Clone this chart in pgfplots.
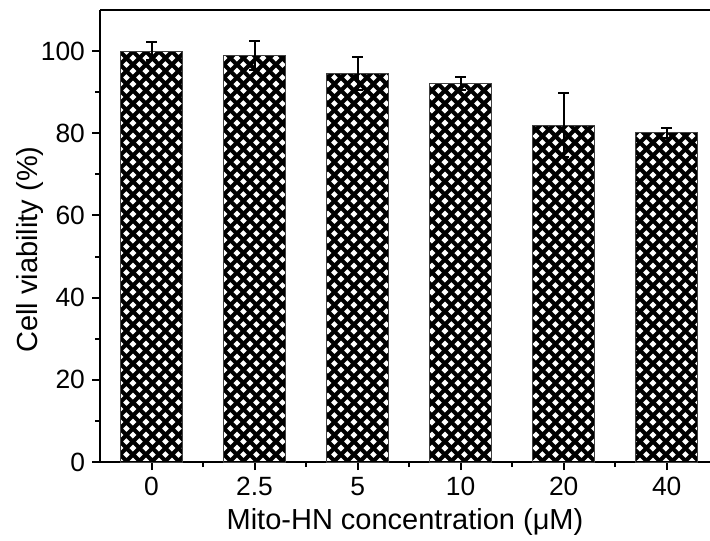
\documentclass[border=0pt]{standalone}
\usepackage{fontspec}
\setmainfont{Liberation Sans}
\usepackage{pgfplots}
\pgfplotsset{compat=1.18}
\usetikzlibrary{patterns}
\pgfdeclarepatternformonly{dcross}{\pgfqpoint{0pt}{0pt}}{\pgfqpoint{6.7pt}{6.7pt}}{\pgfqpoint{6.7pt}{6.7pt}}{%
  \pgfsetlinewidth{2.1pt}%
  \pgfpathmoveto{\pgfqpoint{-2pt}{5.35pt}}\pgfpathlineto{\pgfqpoint{5.35pt}{-2pt}}%
  \pgfpathmoveto{\pgfqpoint{1.35pt}{8.7pt}}\pgfpathlineto{\pgfqpoint{8.7pt}{1.35pt}}%
  \pgfpathmoveto{\pgfqpoint{1.35pt}{-2pt}}\pgfpathlineto{\pgfqpoint{8.7pt}{5.35pt}}%
  \pgfpathmoveto{\pgfqpoint{-2pt}{1.35pt}}\pgfpathlineto{\pgfqpoint{5.35pt}{8.7pt}}%
  \pgfusepath{stroke}}
\pgfplotstableread{
x y err
0 100.0 2.2
1 98.9 3.6
2 94.5 4.0
3 92.2 1.6
4 82.0 7.7
5 80.1 1.2
}\viability
\begin{document}
\begin{tikzpicture}
\begin{axis}[name=ax, scale only axis, width=305pt, height=226pt,
  xmin=-0.5, xmax=5.42, ymin=0, ymax=110,
  axis x line=box, axis y line=left,
  axis line style={-, line width=1pt, black},
  xtick={0,...,5}, xticklabels={0,2.5,5,10,20,40},
  minor xtick={0.5,1.5,2.5,3.5,4.5},
  ytick={0,20,...,100}, minor ytick={10,30,...,90},
  xtick pos=left, xticklabel pos=left,
  tick align=outside, major tick length=4pt, minor tick length=2.5pt,
  every tick/.style={line width=1pt, black},
  /pgf/number format/assume math mode=true,
  ticklabel style={font=\fontsize{13.2}{15}\selectfont},
  xlabel={Mito-HN concentration (μM)}, ylabel={Cell viability (\%)},
  every axis x label/.style={at={(axis description cs:0.5,0)}, yshift=-30pt, anchor=center, font=\fontsize{14.5}{17}\selectfont},
  every axis y label/.style={at={(axis description cs:0,0.47)}, xshift=-35pt, rotate=90, anchor=center, font=\fontsize{14.5}{17}\selectfont},
  ybar, bar width=0.6,
  clip=false]
\addplot[draw=black!75, line width=0.5pt, pattern=dcross, pattern color=black,
  error bars/.cd, y dir=both, y explicit,
  error bar style={line width=1pt, black, solid},
  error mark options={rotate=90, mark size=2.75pt, line width=1pt, black}]
  table[x=x, y=y, y error=err] {\viability};
\end{axis}
\pgfresetboundingbox
\path ([xshift=-50pt,yshift=-39pt]ax.south west) rectangle ([yshift=5pt]ax.north east);
\end{tikzpicture}
\end{document}
